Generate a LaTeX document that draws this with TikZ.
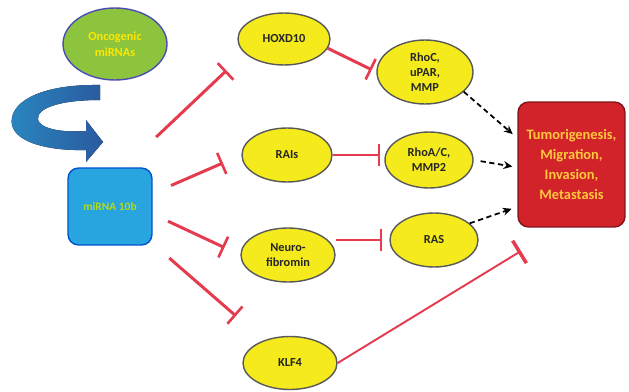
\documentclass[tikz,border=0pt]{standalone}
\usepackage{fontspec}
\setmainfont{Carlito}
\usetikzlibrary{arrows.meta,shapes.geometric,positioning}
\definecolor{inhred}{HTML}{E43B4E}
\definecolor{geneyellow}{HTML}{F4EA1C}
\definecolor{oncogreen}{HTML}{8CC43E}
\definecolor{mirblue}{HTML}{28A4DE}
\definecolor{curveblue}{HTML}{3568B0}
\definecolor{curvedark}{HTML}{2A5A9E}
\definecolor{effectred}{HTML}{D2232B}
\definecolor{effecttext}{HTML}{FFC83D}

\tikzset{
  gene/.style={ellipse, draw=black!65, line width=0.8pt, fill=geneyellow, inner sep=0pt,
    align=center, text=black!85, font=\fontsize{7}{8.5}\selectfont\bfseries},
  inhibit/.style={draw=inhred, line width=1.7pt, -{Bar[width=13pt,line width=1.5pt]}},
  inhibit thin/.style={draw=inhred, line width=1.1pt, -{Bar[width=15pt,line width=2pt]}},
  promote/.style={draw=black, line width=1pt, densely dashed, -{Stealth[length=5pt,width=4.5pt]}},
}

\begin{document}
\begin{tikzpicture}[x=0.02cm,y=-0.02cm]
\useasboundingbox (0,0) rectangle (629,392);

% blue curved arrow
\fill[left color=curveblue!80!cyan, right color=curvedark]
  (100,85) .. controls (35,84) and (8,105) .. (12,125)
  .. controls (16,143) and (50,151) .. (86,150) -- (86,162) -- (103,142) -- (86,120)
  -- (86,131) .. controls (60,133) and (40,128) .. (38,120)
  .. controls (36,108) and (60,100) .. (100,100) -- cycle;

\node[ellipse, draw=gray!60!blue, line width=0.8pt, fill=oncogreen, minimum width=2.08cm,
  minimum height=1.44cm, inner sep=0pt, align=center, text=yellow!90!orange,
  font=\fontsize{7}{9}\selectfont\bfseries] (onco) at (115,44) {Oncogenic\\miRNAs};
\node[rectangle, rounded corners=6pt, draw=blue!60!cyan!80!black, line width=0.8pt, fill=mirblue,
  minimum width=1.68cm, minimum height=1.54cm, text=yellow!70!green,
  font=\fontsize{6.5}{8}\selectfont\bfseries] (mirna) at (110,206.5) {miRNA 10b};

\node[gene, minimum width=1.84cm, minimum height=1.04cm] (hoxd) at (284,39) {HOXD10};
\node[gene, minimum width=1.8cm, minimum height=1.08cm] (rais) at (287,155) {RAIs};
\node[gene, minimum width=1.88cm, minimum height=1.08cm] (neuro) at (288,255) {Neuro-\\fibromin};
\node[gene, minimum width=1.88cm, minimum height=1.06cm] (klf) at (290,363) {KLF4};

\node[gene, minimum width=1.92cm, minimum height=1.28cm] (rhoc) at (425,72) {RhoC,\\uPAR,\\MMP};
\node[gene, minimum width=1.76cm, minimum height=1.12cm] (rhoa) at (429,160) {RhoA/C,\\MMP2};
\node[gene, minimum width=1.76cm, minimum height=1.08cm] (ras) at (434,240) {RAS};

\node[rectangle, rounded corners=6pt, draw=effectred!60!black, line width=0.8pt, fill=effectred,
  minimum width=2.14cm, minimum height=2.5cm, align=center, text=effecttext,
  font=\fontsize{8.2}{11.3}\selectfont\bfseries] (effect) at (571.5,164.5)
  {Tumorigenesis,\\Migration,\\Invasion,\\Metastasis};
\coordinate (klfend) at (521,251);

\draw[inhibit, shorten <=0.88cm, shorten >=0.5cm] (mirna.70) -- (hoxd.200);
\draw[inhibit, shorten <=0.4cm, shorten >=0.4cm] (mirna.17) -- (rais.west);
\draw[inhibit, shorten <=0.34cm, shorten >=0.35cm] (mirna.-10) -- (neuro.west);
\draw[inhibit, shorten <=0.44cm, shorten >=0.74cm] (mirna) -- (klf);

\draw[inhibit, shorten >=0.1cm] (hoxd.-12) -- (rhoc.west);
\draw[inhibit, shorten >=0.08cm] (rais.east) -- (rais.east -| rhoa.west);
\draw[inhibit, shorten >=0.14cm] (ras.west -| neuro.east) -- (ras.west);
\draw[inhibit thin] (klf.east) -- (klfend);

\draw[promote, shorten >=0.12cm] (rhoc.-27) -- (effect.154);
\draw[promote, shorten <=0.14cm, shorten >=0.1cm] (rhoa.east) -- (effect.183);
\draw[promote, shorten >=0.12cm] (ras.25) -- (effect.218);
\end{tikzpicture}
\end{document}
